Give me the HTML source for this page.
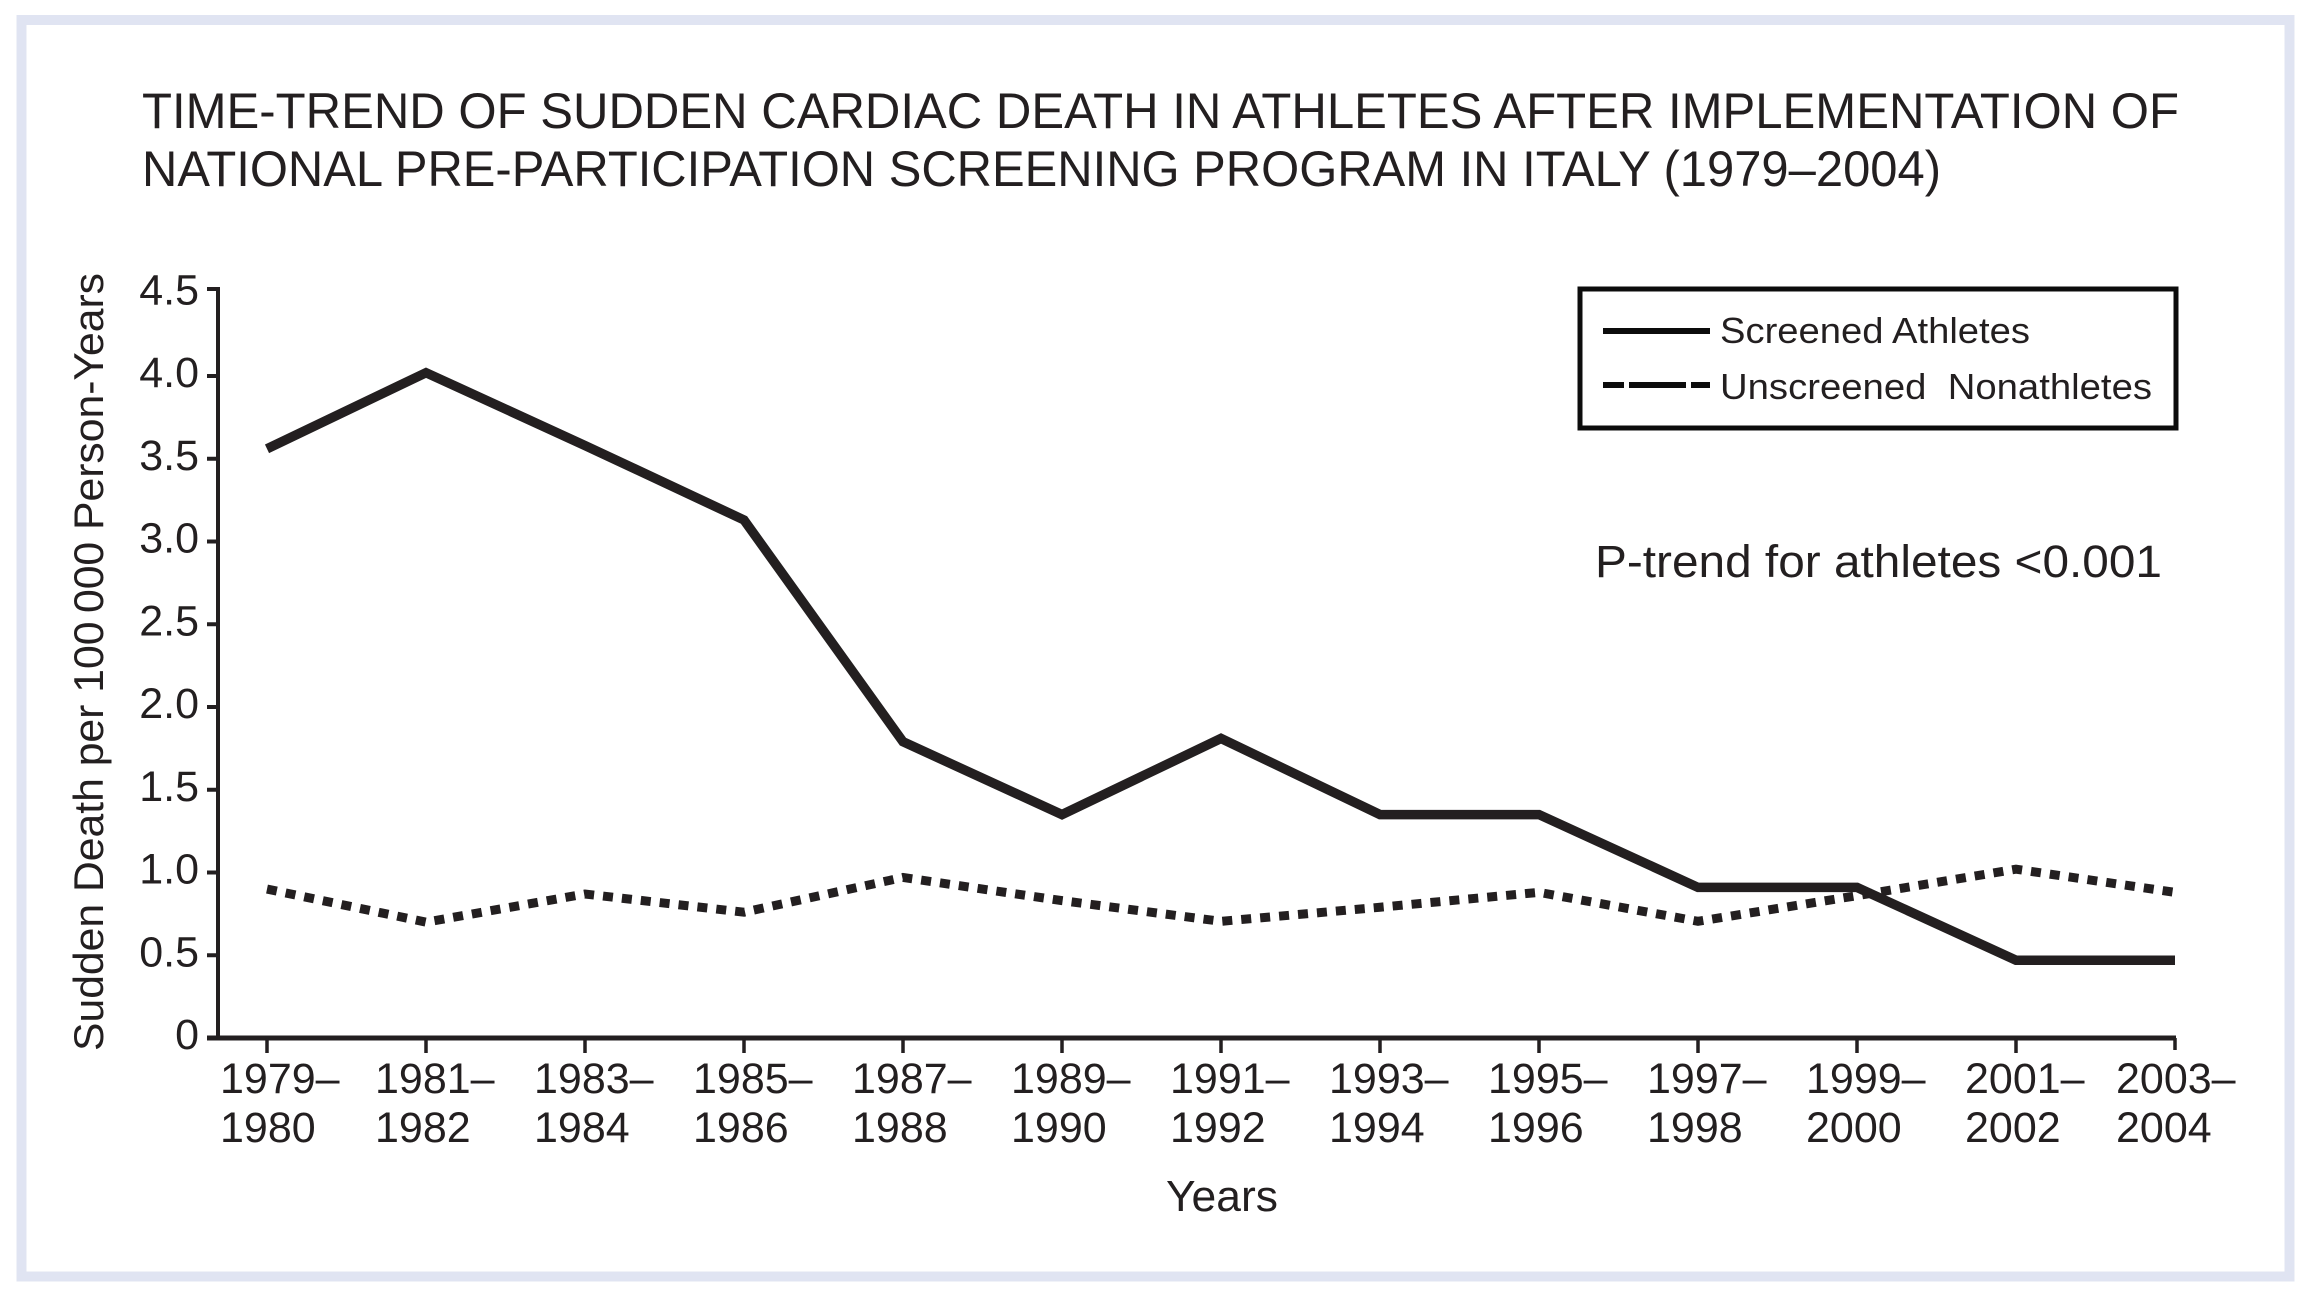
<!DOCTYPE html>
<html lang="en">
<head>
<meta charset="utf-8">
<title>Time-trend of sudden cardiac death in athletes</title>
<style>
html,body{margin:0;padding:0;background:#fff;width:2311px;height:1300px;overflow:hidden}
svg{display:block}
text{font-family:"Liberation Sans",sans-serif;fill:#231f20}
</style>
</head>
<body>
<svg id="chart" xmlns="http://www.w3.org/2000/svg" width="2311" height="1300" viewBox="0 0 2311 1300">
  <rect x="21.5" y="20" width="2268" height="1256.5" fill="#fff" stroke="#e0e4f2" stroke-width="10"/>
  <g>
    <text x="142" y="128" font-size="50" textLength="2037" lengthAdjust="spacingAndGlyphs">TIME-TREND OF SUDDEN CARDIAC DEATH IN ATHLETES AFTER IMPLEMENTATION OF</text>
    <text x="142" y="186" font-size="50" textLength="1799" lengthAdjust="spacingAndGlyphs">NATIONAL PRE-PARTICIPATION SCREENING PROGRAM IN ITALY (1979–2004)</text>
  </g>
  <text transform="translate(103,1051) rotate(-90)" font-size="42" textLength="778" lengthAdjust="spacingAndGlyphs">Sudden Death per 100&#8201;000 Person-Years</text>
  <text x="1166" y="1211" font-size="44" textLength="112" lengthAdjust="spacingAndGlyphs">Years</text>
  <g id="axes"></g>
  <g id="series"></g>
  <g>
    <rect x="1580" y="289" width="596" height="139" fill="none" stroke="#0c0c0c" stroke-width="5"/>
    <line x1="1603" y1="331" x2="1710" y2="331" stroke="#0c0c0c" stroke-width="6"/>
    <text x="1720" y="343" font-size="36" textLength="310" lengthAdjust="spacingAndGlyphs">Screened Athletes</text>
    <line x1="1603" y1="385" x2="1710" y2="385" stroke="#0c0c0c" stroke-width="6" stroke-dasharray="21 5 57 5 19"/>
    <text x="1720" y="399" font-size="36" textLength="432" lengthAdjust="spacingAndGlyphs">Unscreened&#160; Nonathletes</text>
  </g>
  <text x="1595" y="577" font-size="45" textLength="567" lengthAdjust="spacingAndGlyphs">P-trend for athletes &lt;0.001</text>
</svg>
<script>
const periodStart = ['1979–','1981–','1983–','1985–','1987–','1989–','1991–','1993–','1995–','1997–','1999–','2001–','2003–'];
const periodEnd = ['1980','1982','1984','1986','1988','1990','1992','1994','1996','1998','2000','2002','2004'];
const screenedAthletes = [3.56,4.02,3.58,3.13,1.79,1.35,1.81,1.35,1.35,0.91,0.91,0.47,0.47];
const unscreenedNonathletes = [0.90,0.70,0.87,0.76,0.97,0.83,0.705,0.79,0.88,0.705,0.86,1.02,0.88];
const yTickValues = [0,0.5,1,1.5,2,2.5,3,3.5,4,4.5];
const yTickLabels = ['0','0.5','1.0','1.5','2.0','2.5','3.0','3.5','4.0','4.5'];

const SVG_NS = 'http://www.w3.org/2000/svg';
const xScale = i => 267 + i * 159;
const yScale = v => 1038 - v * 165.5;
const axes = document.getElementById('axes');
const series = document.getElementById('series');
const INK = '#231f20';

function make(tag, parent, attrs, content) {
  const el = document.createElementNS(SVG_NS, tag);
  for (const k in attrs) el.setAttribute(k, attrs[k]);
  if (content !== undefined) el.textContent = content;
  parent.appendChild(el);
  return el;
}

const yAxisLine = make('line', axes, {x1:218, y1:287, x2:218, y2:1040, stroke:INK, 'stroke-width':4});



const xAxisLine = make('line', axes, {x1:207, y1:1038, x2:xScale(12) + 1, y2:1038, stroke:INK, 'stroke-width':5});



yTickValues.forEach((v, i) => {
  const tickY = i === yTickValues.length - 1 ? 289 : yScale(v);
  const tick = make('line', axes, {x1:207, y1:tickY, x2:218, y2:tickY, stroke:INK, 'stroke-width':4});
  
  
  const label = make('text', axes, {x:199, y:1049 - v * 165.5, 'text-anchor':'end', 'font-size':43}, yTickLabels[i]);
  
  
});

periodStart.forEach((p, i) => {
  const last = i === periodStart.length - 1;
  const x = xScale(i);
  const tick = make('line', axes, {x1:x, y1:1038, x2:x, y2:last ? 1050 : 1053, stroke:INK, 'stroke-width':3.5});
  
  
  const labelX = last ? x - 59 : (i === 0 ? x - 47 : x - 51);
  const top = make('text', axes, {x:labelX, y:1093, 'font-size':43}, p);
  
  
  const bottom = make('text', axes, {x:labelX, y:1142, 'font-size':43}, periodEnd[i]);
  
  
});

function pointsOf(values) {
  return values.map((v, i) => xScale(i) + ',' + yScale(v)).join(' ');
}

const nonathleteLine = make('polyline', series, {points:pointsOf(unscreenedNonathletes), fill:'none', stroke:INK, 'stroke-width':9, 'stroke-dasharray':'10 9', 'stroke-linejoin':'miter'});



const athleteLine = make('polyline', series, {points:pointsOf(screenedAthletes), fill:'none', stroke:INK, 'stroke-width':9.5, 'stroke-linejoin':'miter'});


</script>
</body>
</html>
